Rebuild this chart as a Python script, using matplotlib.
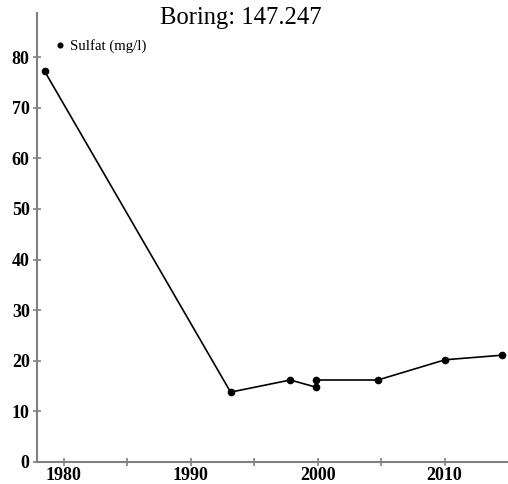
import matplotlib
matplotlib.use("Agg")
import matplotlib.pyplot as plt

# data
years = [1978.5, 1993.15, 1997.85, 1999.85, 1999.85, 2004.75, 2010.05, 2014.55]
sulfat = [77.2, 13.8, 16.2, 14.8, 16.2, 16.2, 20.2, 21.1]
xticks = [1980, 1985, 1990, 1995, 2000, 2005, 2010]
xlabels = ["1980", "", "1990", "", "2000", "", "2010"]
yticks = [0, 10, 20, 30, 40, 50, 60, 70, 80]

SERIF = ["Liberation Serif", "DejaVu Serif"]
AX = "#808080"

fig = plt.figure(figsize=(5.08, 4.84), dpi=100)
ax = fig.add_axes([37/508, 22/484, 471/508, 449/484])
ax.plot(years, sulfat, color="black", lw=1.2, marker="o", ms=4.5, label="Sulfat (mg/l)")
ax.set_xlim(1977.9, 2015.0)
ax.set_ylim(0, 88.7)
ax.set_xticks(xticks); ax.set_xticklabels(xlabels)
ax.set_yticks(yticks)
for s in ["top", "right"]:
    ax.spines[s].set_visible(False)
for s in ["left", "bottom"]:
    ax.spines[s].set_color(AX); ax.spines[s].set_linewidth(1.5)
ax.tick_params(direction="inout", length=5.5, width=1.2, color=AX, pad=1)
ax.tick_params(axis="y", pad=2.5)
for lab in ax.get_xticklabels() + ax.get_yticklabels():
    lab.set_family(SERIF); lab.set_fontweight("bold"); lab.set_fontsize(13)

leg = ax.legend(loc="center left", bbox_to_anchor=(0.03, 1 - 33/449), frameon=False,
                handlelength=0.4, handletextpad=0.5, markerscale=0.75,
                prop={"family": SERIF, "size": 10.7}, borderaxespad=0)
for h in leg.legend_handles:
    h.set_linestyle("none")

fig.text(241/508, 1 - 18/484, "Boring: 147.247", ha="center", va="center",
         family=SERIF, fontsize=17.7)
fig.savefig("out.png", dpi=100)
